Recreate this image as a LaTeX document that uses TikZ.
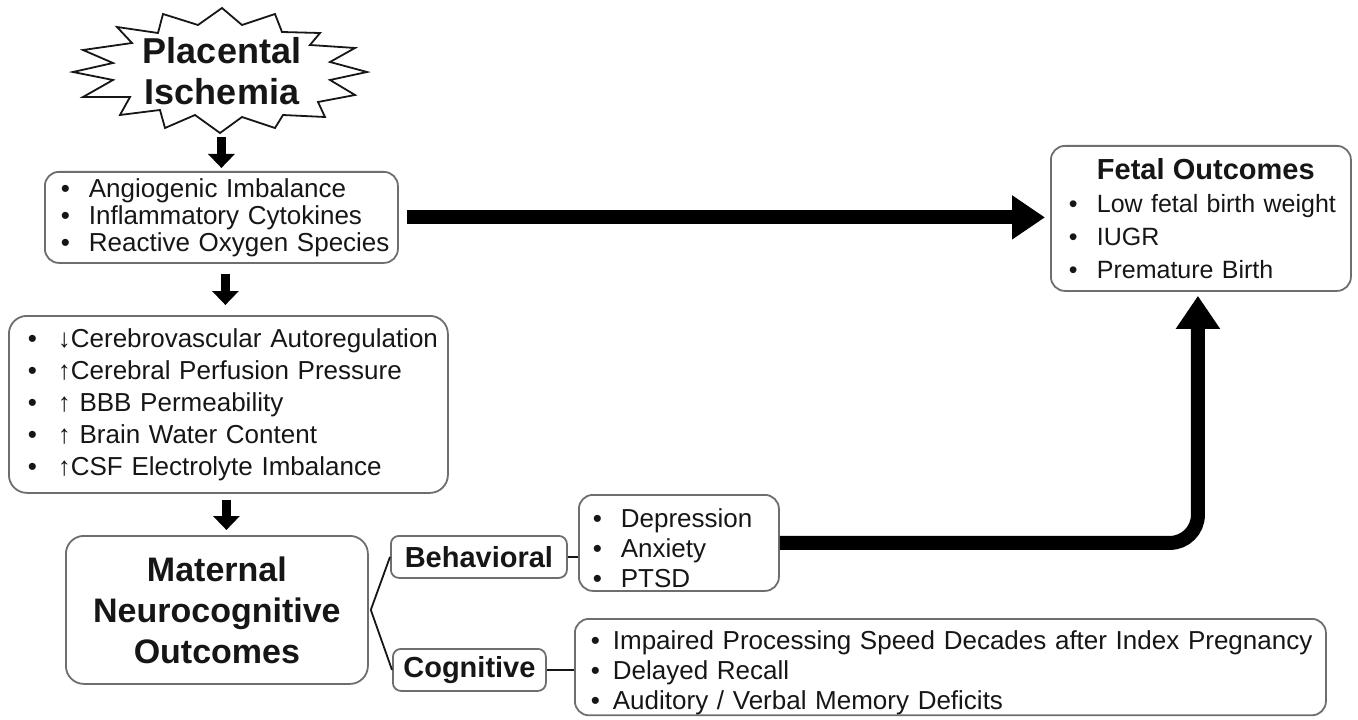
\documentclass[tikz,border=0pt]{standalone}
\usepackage{fontspec}
\setmainfont{Liberation Sans}
\usetikzlibrary{arrows.meta,positioning}
\definecolor{linea}{RGB}{110,110,110}
\definecolor{tinta}{RGB}{22,22,22}
\newcommand{\itm}[2][14pt]{\mbox{\makebox[#1][l]{\textbullet}#2}}
\tikzset{
  caja/.style={draw=linea, line width=0.9pt, rounded corners=7pt, anchor=north west, align=left, inner ysep=0pt, text=tinta, font=\fontsize{13}{13.5}\selectfont},
  titulo/.style={draw=linea, line width=0.9pt, rounded corners=4pt, anchor=north west, align=center, inner sep=0pt, text=tinta, font=\bfseries\fontsize{14.5}{16}\selectfont},
  estrella/.style={draw=tinta, line width=0.9pt, line join=miter},
  fl/.style={-{Triangle[length=7pt,width=13pt]}, line width=4.5pt, black},
  gruesa/.style={-{Triangle[length=16.5pt,width=21pt]}, line width=7pt, black},
  rama/.style={line width=0.9pt, tinta},
}
\begin{document}
\begin{tikzpicture}[x=0.5pt, y=0.5pt]
  \useasboundingbox (0,0) rectangle (1358,719);
  % estallido
  \draw[estrella] (222,711) -- (242,694) -- (275,705) -- (282,687) -- (320,686) -- (310,674)
    -- (355,671) -- (330,657) -- (367,647) -- (330,639) -- (355,624) -- (318,617)
    -- (325,602) -- (283,604) -- (275,591) -- (242,602) -- (220,586) -- (195,604)
    -- (165,591) -- (160,609) -- (120,604) -- (130,622) -- (83,622) -- (113,639)
    -- (73,647) -- (113,656) -- (83,669) -- (132,676) -- (117,692) -- (158,686)
    -- (163,705) -- (198,694) -- cycle;
  \coordinate (bt) at (220,586);
  \node[align=center, inner sep=0pt, text=tinta, font=\bfseries\fontsize{18}{20.5}\selectfont] (isq) at (222,648) {Placental\\ Ischemia};
  \node[caja, inner xsep=8pt, text width=160.5pt, minimum height=45.5pt] (ang) at (44,548)
    {\itm{Angiogenic Imbalance}\\ \itm{Inflammatory Cytokines}\\ \itm{Reactive Oxygen Species}};
  \node[caja, inner xsep=9.5pt, text width=200.5pt, minimum height=88.5pt, rounded corners=9pt, font=\fontsize{13}{16}\selectfont] (cere) at (8,404)
    {\itm[15pt]{↓Cerebrovascular Autoregulation}\\
     \itm[15pt]{↑Cerebral Perfusion Pressure}\\
     \itm[15pt]{↑ BBB Permeability}\\
     \itm[15pt]{↑ Brain Water Content}\\
     \itm[15pt]{↑CSF Electrolyte Imbalance}};
  \node[caja, align=center, inner sep=0pt, minimum width=151pt, minimum height=74pt, rounded corners=9pt, font=\bfseries\fontsize{17}{20.5}\selectfont] (mat) at (65,184)
    {Maternal\\ Neurocognitive\\ Outcomes};
  \node[titulo, minimum width=88pt, minimum height=21pt] (beh) at (390,184) {Behavioral};
  \node[titulo, minimum width=76.5pt, minimum height=21pt] (cog) at (392,71) {Cognitive};
  \node[caja, inner xsep=7pt, text width=86pt, minimum height=48pt, font=\fontsize{13}{15}\selectfont] (behl) at (578,225)
    {\rule{0pt}{14.5pt}\itm{Depression}\\ \itm{Anxiety}\\ \itm{PTSD}};
  \node[caja, inner xsep=8pt, text width=359.5pt, minimum height=47pt, font=\fontsize{13}{15}\selectfont] (cogl) at (574,101)
    {\rule{0pt}{15.5pt}\itm[11pt]{Impaired Processing Speed Decades after Index Pregnancy}\\
     \itm[11pt]{Delayed Recall}\\
     \itm[11pt]{Auditory / Verbal Memory Deficits}};
  \node[caja, inner xsep=9pt, text width=132pt, minimum height=72.5pt, font=\fontsize{12.5}{16.5}\selectfont] (fet) at (1050,574)
    {\mbox{\makebox[14pt]{}\bfseries\fontsize{14.5}{16.5}\selectfont Fetal Outcomes}\\
     \itm{Low fetal birth weight}\\ \itm{IUGR}\\ \itm{Premature Birth}};
  % flechas verticales
  \draw[fl, shorten <=2pt, shorten >=1.5pt] (bt -| ang.north) -- (ang.north);
  \draw[fl, shorten <=5pt, shorten >=5pt] ([xshift=2pt]ang.south) -- ([xshift=2pt]ang.south |- cere.north);
  \draw[fl, shorten <=3pt, shorten >=2.5pt] ([xshift=-1pt]cere.south) -- ([xshift=-1pt]cere.south |- mat.north);
  % flechas gruesas
  \draw[gruesa, shorten <=4pt, shorten >=2.5pt] (ang.east) -- (ang.east -| fet.west);
  \draw[gruesa, rounded corners=14pt, shorten >=2pt] (behl.east) -- ([xshift=-1.5pt]fet.south |- behl.east) -- ([xshift=-1.5pt]fet.south);
  % ramas
  \draw[rama] ([xshift=1pt]mat.east) -- (beh.west);
  \draw[rama] ([xshift=1pt]mat.east) -- (cog.west);
  \draw[rama] (beh.east) -- (beh.east -| behl.west);
  \draw[rama] (cog.east) -- (cog.east -| cogl.west);
\end{tikzpicture}
\end{document}
